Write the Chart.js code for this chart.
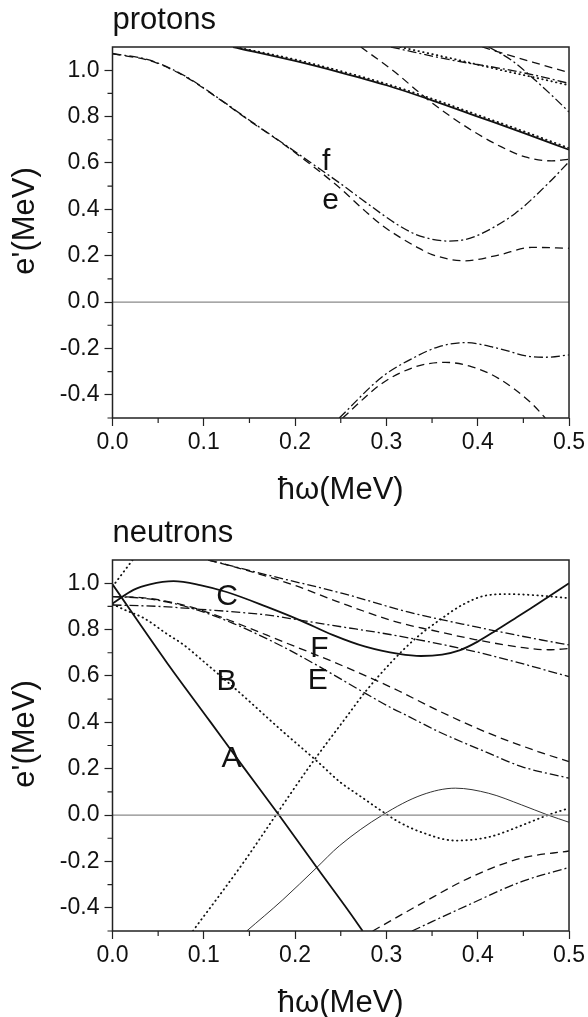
<!DOCTYPE html>
<html><head><meta charset="utf-8">
<script src="https://cdn.jsdelivr.net/npm/chart.js@4.4.1/dist/chart.umd.min.js"></script>
<style>html,body{margin:0;padding:0;background:#fff;}canvas{display:block;}</style>
</head><body>
<canvas id="c1" width="588" height="510"></canvas>
<canvas id="c2" width="588" height="507"></canvas>
<script>
// ---------- axis ticks ----------
const xTicks = [0, 0.1, 0.2, 0.3, 0.4, 0.5];
const xMinor = [0.05, 0.15, 0.25, 0.35, 0.45];
const yTicks = [-0.4, -0.2, 0, 0.2, 0.4, 0.6, 0.8, 1.0];
const yMinor = [-0.5, -0.3, -0.1, 0.1, 0.3, 0.5, 0.7, 0.9];
const zeroLine = [[0, 0], [0.5, 0]];

// ---------- protons ----------
const pSolid = [[0.132,1.1],[0.2,1.04],[0.25,0.99],[0.3,0.935],[0.35,0.87],[0.4,0.80],[0.45,0.73],[0.5,0.657]];
const pDotted = [[0.135,1.1],[0.2,1.046],[0.25,0.996],[0.3,0.941],[0.35,0.877],[0.4,0.807],[0.45,0.737],[0.5,0.664]];
const pDashDotF = [[0,1.072],[0.041,1.043],[0.078,0.978],[0.114,0.885],[0.15,0.784],[0.187,0.684],[0.223,0.585],[0.25,0.51],[0.2774,0.43],[0.3137,0.33],[0.332,0.292],[0.35,0.271],[0.368,0.263],[0.3865,0.27],[0.4045,0.296],[0.441,0.382],[0.477,0.511],[0.5,0.605]];
const pDashedE = [[0,1.07],[0.041,1.041],[0.078,0.976],[0.114,0.883],[0.15,0.782],[0.187,0.682],[0.223,0.575],[0.2484,0.494],[0.2774,0.39],[0.2955,0.33],[0.3137,0.282],[0.332,0.24],[0.35,0.205],[0.386,0.178],[0.4227,0.2026],[0.459,0.2357],[0.5,0.232]];
const pDashedSteep = [[0.272,1.1],[0.31,0.99],[0.3355,0.905],[0.352,0.853],[0.39,0.749],[0.426,0.669],[0.452,0.626],[0.481,0.609],[0.5,0.616]];
const pDashDotTop = [[0.305,1.1],[0.372,1.043],[0.426,1.007],[0.463,0.978],[0.5,0.943]];
const pDottedTop = [[0.315,1.1],[0.372,1.05],[0.426,1.0],[0.463,0.968],[0.5,0.935]];
const pDashedTopR = [[0.405,1.1],[0.46,1.035],[0.5,0.99]];
const pDashDotSteep = [[0.412,1.1],[0.437,1.043],[0.459,0.971],[0.481,0.892],[0.5,0.82]];
const pDashDotLow = [[0.2484,-0.5],[0.2955,-0.322],[0.332,-0.236],[0.357,-0.193],[0.386,-0.175],[0.4227,-0.2],[0.459,-0.236],[0.475,-0.238],[0.5,-0.228]];
const pDashedLow = [[0.252,-0.5],[0.2955,-0.35],[0.332,-0.279],[0.3645,-0.26],[0.3937,-0.279],[0.4227,-0.329],[0.459,-0.437],[0.474,-0.5]];

// ---------- neutrons ----------
const nSolidA = [[0,0.995],[0.06,0.655],[0.107,0.403],[0.143,0.209],[0.1823,0.0],[0.223,-0.222],[0.259,-0.416],[0.274,-0.5]];
const nSolidC = [[0,0.912],[0.023,0.971],[0.041,0.995],[0.0668,1.009],[0.0959,0.992],[0.125,0.962],[0.1685,0.899],[0.205,0.841],[0.241,0.777],[0.277,0.726],[0.3137,0.695],[0.338,0.686],[0.361,0.692],[0.38,0.71],[0.4,0.748],[0.42,0.796],[0.44,0.846],[0.46,0.896],[0.48,0.948],[0.5,1.0]];
const nThin = [[0.147,-0.5],[0.1866,-0.365],[0.223,-0.229],[0.2484,-0.133],[0.2956,0.0],[0.339,0.087],[0.3755,0.116],[0.412,0.094],[0.448,0.044],[0.477,0.0],[0.5,-0.031]];
const nDotB = [[0,0.91],[0.014,0.884],[0.034,0.85],[0.06,0.78],[0.078,0.734],[0.096,0.675],[0.1358,0.54],[0.1866,0.36],[0.2247,0.23],[0.25,0.14],[0.27,0.085],[0.292,0.025],[0.3137,-0.03],[0.339,-0.075],[0.3755,-0.11],[0.412,-0.095],[0.448,-0.045],[0.477,0.0],[0.5,0.03]];
const nDotRise = [[0.088,-0.5],[0.143,-0.207],[0.179,0.0],[0.2157,0.209],[0.2556,0.42],[0.277,0.532],[0.306,0.662],[0.332,0.762],[0.361,0.849],[0.383,0.906],[0.408,0.946],[0.434,0.953],[0.47,0.946],[0.5,0.935]];
const nDotSteep = [[0,0.985],[0.022,1.1]];
const nDashedF = [[0,0.942],[0.034,0.937],[0.07,0.913],[0.1,0.88],[0.132,0.834],[0.1866,0.748],[0.241,0.662],[0.28,0.596],[0.3137,0.535],[0.357,0.45],[0.412,0.353],[0.466,0.274],[0.5,0.23]];
const nDashDotE = [[0,0.942],[0.034,0.935],[0.07,0.91],[0.1,0.875],[0.132,0.827],[0.1866,0.726],[0.2266,0.64],[0.277,0.525],[0.3064,0.46],[0.321,0.432],[0.357,0.36],[0.412,0.267],[0.448,0.209],[0.5,0.159]];
const nDashDotFlat = [[0,0.906],[0.05,0.9],[0.0959,0.8875],[0.1685,0.863],[0.205,0.841],[0.241,0.818],[0.3137,0.772],[0.397,0.705],[0.4336,0.669],[0.5,0.597]];
const nDashedTop = [[0.105,1.1],[0.15,1.052],[0.2,0.99],[0.25,0.915],[0.3137,0.83],[0.35,0.797],[0.397,0.757],[0.45,0.722],[0.477,0.713],[0.5,0.718]];
const nDashDotTop = [[0.105,1.1],[0.17,1.035],[0.252,0.956],[0.3246,0.875],[0.397,0.8125],[0.47,0.755],[0.5,0.734]];
const nDashedLow = [[0.285,-0.5],[0.339,-0.38],[0.394,-0.265],[0.448,-0.186],[0.5,-0.155]];
const nDashDotLow = [[0.328,-0.5],[0.394,-0.38],[0.448,-0.287],[0.5,-0.226]];

// ---------- text ----------
const protonTitle = 'protons';
const neutronTitle = 'neutrons';
const xTitle = 'ħω(MeV)';
const yTitle = "e'(MeV)";
const protonLabels = [['f', 0.234, 0.569], ['e', 0.239, 0.40]];
const neutronLabels = [['C', 0.1256, 0.907], ['B', 0.1249, 0.538], ['A', 0.1304, 0.207], ['F', 0.2266, 0.681], ['E', 0.2248, 0.545]];

// ---------- styles ----------
const FONT = '"Liberation Sans", Arial, Helvetica, sans-serif';
const styles = {
  solid:   {borderColor: '#111', borderWidth: 1.8},
  thin:    {borderColor: '#333', borderWidth: 1},
  dashed:  {borderColor: '#111', borderWidth: 1.3, borderDash: [8, 5]},
  dashdot: {borderColor: '#111', borderWidth: 1.3, borderDash: [9, 3, 2, 3]},
  dotted:  {borderColor: '#111', borderWidth: 1.8, borderDash: [0.5, 4.2], borderCapStyle: 'round'},
  zero:    {borderColor: '#8a8a8a', borderWidth: 1.2}
};
function ds(pts, style) {
  return Object.assign({
    data: pts.map(p => ({x: p[0], y: p[1]})),
    showLine: true, pointRadius: 0, pointHoverRadius: 0, fill: false,
    cubicInterpolationMode: 'monotone'
  }, styles[style]);
}

const decor = {
  id: 'decor',
  afterDraw(chart, args, o) {
    const {ctx, chartArea: a, scales: {x, y}} = chart;
    ctx.save();
    ctx.strokeStyle = '#222';
    ctx.lineWidth = 1.2;
    ctx.beginPath();
    xMinor.forEach(v => { const px = x.getPixelForValue(v); ctx.moveTo(px, a.bottom); ctx.lineTo(px, a.bottom + 5); });
    yMinor.forEach(v => { const py = y.getPixelForValue(v); ctx.moveTo(a.left, py); ctx.lineTo(a.left - 5, py); });
    ctx.stroke();
    ctx.lineWidth = 1.5;
    ctx.strokeRect(a.left, a.top, a.right - a.left, a.bottom - a.top);
    ctx.fillStyle = '#111';
    ctx.font = '31px ' + FONT;
    ctx.textAlign = 'left'; ctx.textBaseline = 'alphabetic';
    ctx.fillText(o.title, a.left, a.top - 18);
    ctx.textAlign = 'center'; ctx.textBaseline = 'middle';
    ctx.fillText(xTitle, (a.left + a.right) / 2, a.bottom + 72);
    ctx.save();
    ctx.translate(25, a.top + 174);
    ctx.rotate(-Math.PI / 2);
    ctx.fillText(yTitle, 0, 0);
    ctx.restore();
    ctx.font = '30px ' + FONT;
    ctx.textAlign = 'center'; ctx.textBaseline = 'alphabetic';
    o.labels.forEach(l => ctx.fillText(l[0], x.getPixelForValue(l[1]), y.getPixelForValue(l[2])));
    ctx.restore();
  }
};

function makeChart(id, datasets, title, labels, padTop, xHeight) {
  const grid = {drawOnChartArea: false, drawTicks: true, tickLength: 8, tickColor: '#222', tickWidth: 1.2, color: '#222'};
  return new Chart(document.getElementById(id), {
    type: 'scatter',
    data: {datasets},
    options: {
      responsive: false, animation: false, devicePixelRatio: 1,
      layout: {padding: {top: padTop, right: 17, left: 0, bottom: 0}},
      plugins: {legend: {display: false}, tooltip: {enabled: false}, decor: {title, labels}},
      scales: {
        x: {
          type: 'linear', min: 0, max: 0.5,
          afterBuildTicks: s => { s.ticks = xTicks.map(v => ({value: v})); },
          afterFit: s => { s.height = xHeight; },
          ticks: {callback: v => v.toFixed(1), font: {size: 23, family: FONT}, color: '#111', padding: 3, maxRotation: 0, autoSkip: false},
          grid, border: {display: false}
        },
        y: {
          type: 'linear', min: -0.5, max: 1.1,
          afterBuildTicks: s => { s.ticks = yTicks.map(v => ({value: v})); },
          afterFit: s => { s.width = 112.5; },
          ticks: {callback: v => v.toFixed(1), font: {size: 23, family: FONT}, color: '#111', padding: 5, autoSkip: false},
          grid, border: {display: false}
        }
      }
    },
    plugins: [decor]
  });
}

makeChart('c1', [
  ds(zeroLine, 'zero'),
  ds(pSolid, 'solid'), ds(pDotted, 'dotted'),
  ds(pDashDotF, 'dashdot'), ds(pDashedE, 'dashed'),
  ds(pDashedSteep, 'dashed'), ds(pDashDotTop, 'dashdot'), ds(pDottedTop, 'dotted'),
  ds(pDashedTopR, 'dashed'), ds(pDashDotSteep, 'dashdot'),
  ds(pDashDotLow, 'dashdot'), ds(pDashedLow, 'dashed')
], protonTitle, protonLabels, 47, 92);

makeChart('c2', [
  ds(zeroLine, 'zero'),
  ds(nSolidA, 'solid'), ds(nSolidC, 'solid'), ds(nThin, 'thin'),
  ds(nDotB, 'dotted'), ds(nDotRise, 'dotted'), ds(nDotSteep, 'dotted'),
  ds(nDashedF, 'dashed'), ds(nDashDotE, 'dashdot'), ds(nDashDotFlat, 'dashdot'),
  ds(nDashedTop, 'dashed'), ds(nDashDotTop, 'dashdot'),
  ds(nDashedLow, 'dashed'), ds(nDashDotLow, 'dashdot')
], neutronTitle, neutronLabels, 50, 86);
</script>
</body></html>
